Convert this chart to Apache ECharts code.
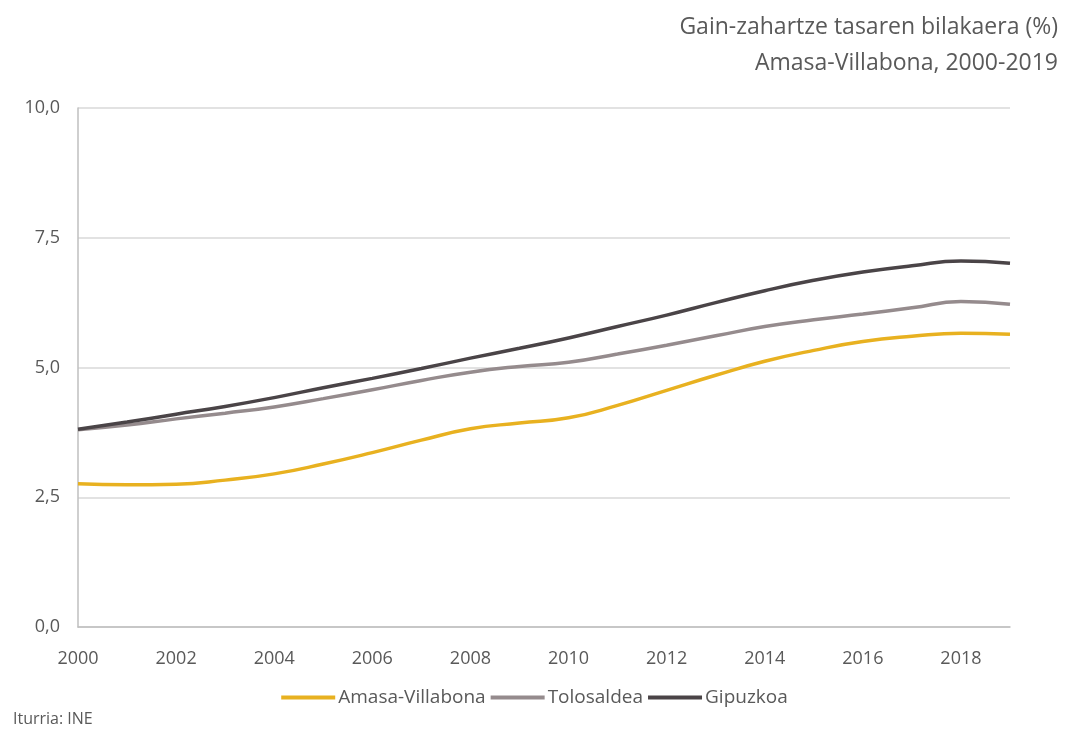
<!DOCTYPE html>
<html>
<head>
<meta charset="utf-8">
<script src="https://cdn.jsdelivr.net/npm/echarts@6/dist/echarts.min.js"></script>
<style>
  html, body { margin: 0; padding: 0; background: #fff; }
  #chart { width: 1069px; height: 729px; }
</style>
</head>
<body>
<div id="chart"></div>
<script>
const years = ["2000", "2001", "2002", "2003", "2004", "2005", "2006", "2007", "2008", "2009",
  "2010", "2011", "2012", "2013", "2014", "2015", "2016", "2017", "2018", "2019"];
const amasaVillabona = [2.76, 2.74, 2.75, 2.83, 2.95, 3.14, 3.36, 3.6, 3.82, 3.93,
  4.03, 4.27, 4.56, 4.85, 5.12, 5.33, 5.5, 5.6, 5.66, 5.64];
const tolosaldea = [3.8, 3.89, 4.01, 4.12, 4.24, 4.4, 4.57, 4.75, 4.91, 5.02,
  5.1, 5.26, 5.43, 5.61, 5.79, 5.92, 6.03, 6.15, 6.27, 6.22];
const gipuzkoa = [3.81, 3.95, 4.1, 4.25, 4.42, 4.61, 4.79, 4.98, 5.18, 5.37,
  5.57, 5.79, 6.01, 6.25, 6.48, 6.68, 6.84, 6.96, 7.05, 7.01];
const yTicks = [0, 2.5, 5, 7.5, 10];

const textColor = "#595959";
const font = "Open Sans";

const myChart = echarts.init(document.getElementById("chart"));

function lineSeries(name, data, color) {
  return {
    name: name,
    type: "line",
    data: data,
    smooth: 0.5,
    symbol: "none",
    lineStyle: { color: color, width: 3.5 },
    itemStyle: { color: color },
  };
}

const titleStyle = { color: textColor, fontFamily: font, fontWeight: "normal", fontSize: 23 };

myChart.setOption({
  animation: false,
  textStyle: { fontFamily: font },
  title: [
    { text: "Gain-zahartze tasaren bilakaera (%)", right: 6, top: 11, textStyle: titleStyle },
    { text: "Amasa-Villabona, 2000-2019", right: 6, top: 47, textStyle: titleStyle },
    {
      text: "Iturria: INE",
      left: 8,
      top: 706,
      textStyle: { color: textColor, fontFamily: font, fontWeight: "normal", fontSize: 16 },
    },
  ],
  legend: {
    bottom: 17,
    left: "center",
    icon: "rect",
    itemWidth: 54,
    itemHeight: 4,
    itemGap: 5,
    textStyle: { color: textColor, fontFamily: font, fontSize: 19, padding: [0, 0, 0, -2] },
    data: ["Amasa-Villabona", "Tolosaldea", "Gipuzkoa"],
  },
  grid: { left: 78, right: 59, top: 108, bottom: 102, containLabel: false },
  xAxis: {
    type: "category",
    data: years,
    boundaryGap: false,
    axisLine: { lineStyle: { color: "#BFBFBF", width: 1.5 } },
    axisTick: { show: false },
    axisLabel: { color: textColor, fontSize: 18, interval: 1, margin: 23, fontFamily: font },
    splitLine: { show: false },
  },
  yAxis: {
    type: "value",
    min: yTicks[0],
    max: yTicks[yTicks.length - 1],
    interval: 2.5,
    axisLine: { show: true, lineStyle: { color: "#BFBFBF", width: 1.5 } },
    axisTick: { show: false },
    axisLabel: {
      color: textColor,
      fontSize: 18,
      margin: 18,
      fontFamily: font,
      formatter: (v) => v.toFixed(1).replace(".", ","),
    },
    splitLine: { lineStyle: { color: "#D9D9D9", width: 1.5 } },
  },
  series: [
    lineSeries("Amasa-Villabona", amasaVillabona, "#E8B120"),
    lineSeries("Tolosaldea", tolosaldea, "#958B8D"),
    lineSeries("Gipuzkoa", gipuzkoa, "#4A4447"),
  ],
});
</script>
</body>
</html>
